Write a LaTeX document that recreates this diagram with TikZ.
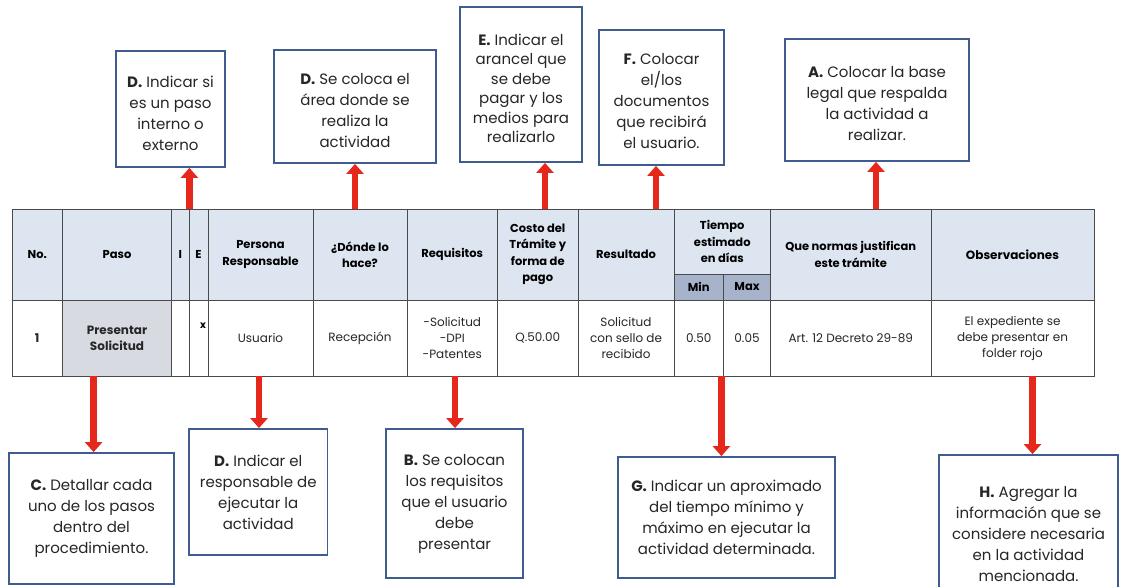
\documentclass[tikz,border=0pt]{standalone}
\usepackage{fontspec}
\setmainfont{Poppins}
\usetikzlibrary{arrows.meta}

\definecolor{hdrfill}{HTML}{DCE5F0}
\definecolor{subfill}{HTML}{A6B3CA}
\definecolor{pasofill}{HTML}{D7DBE1}
\definecolor{gridline}{HTML}{4A4A4A}
\definecolor{boxline}{HTML}{3F5C90}
\definecolor{arrowred}{HTML}{E6281C}
\definecolor{txt}{HTML}{262626}

% table cell: name, x1, y1, x2, y2, extra style, text
\newcommand\tcell[7]{%
  \node[cell,#6,minimum width={#4-#2},minimum height={#5-#3}]
    (#1) at ({(#2+#4)/2},{(#3+#5)/2}) {#7};}
% note box: name, x1, y1, x2, y2, text style, text
\newcommand\nbox[7]{%
  \node[notebox,minimum width={#4-#2},minimum height={#5-#3}]
    (#1) at ({(#2+#4)/2},{(#3+#5)/2}) {};
  \node[notetext,#6] (#1-text) at (#1.center) {#7};}

\begin{document}
\begin{tikzpicture}[x=1pt,y=-1pt,
  cell/.style={draw=gridline,line width=0.8pt,inner sep=0pt,align=center,
    text=txt,font=\fontsize{12}{16}\selectfont},
  head/.style={fill=hdrfill,text=black,font=\bfseries\fontsize{11.5}{16.5}\selectfont},
  subhead/.style={fill=subfill,text=black,font=\bfseries\fontsize{11.5}{14}\selectfont},
  notebox/.style={draw=boxline,line width=1.8pt,fill=white,inner sep=0pt},
  notetext/.style={inner sep=0pt,align=center,text=txt,font=\fontsize{15}{21}\selectfont},
  lower/.style={yshift=-4pt},
  redarrow/.style={draw=arrowred,line width=6.5pt,
    -{Triangle[width=17pt,length=10pt]}}]

\useasboundingbox (0,0) rectangle (1121,586);
\clip (0,0) rectangle (1121,586);
\fill[white] (0,0) rectangle (1121,586);

% ---- header row ----
\tcell{hNo}{12}{209}{62.5}{300}{head}{No.}
\tcell{hPaso}{62.5}{209}{171.5}{300}{head}{Paso}
\tcell{hI}{171.5}{209}{189}{300}{head}{I}
\tcell{hE}{189}{209}{208}{300}{head}{E}
\tcell{hPers}{208}{209}{313}{300}{head}{Persona\\Responsable}
\tcell{hDonde}{313}{209}{407}{300}{head}{¿Dónde lo\\hace?}
\tcell{hReq}{407}{209}{497.5}{300}{head}{Requisitos}
\tcell{hCosto}{497.5}{209}{578}{300}{head}{Costo del\\Trámite y\\forma de\\pago}
\tcell{hRes}{578}{209}{674}{300}{head}{Resultado}
\tcell{hTiempo}{674}{209}{770.5}{274}{head}{Tiempo\\estimado\\en días}
\tcell{hMin}{674}{274}{723.5}{300}{subhead}{Min}
\tcell{hMax}{723.5}{274}{770.5}{300}{subhead}{\raisebox{-3pt}{Max}}
\tcell{hNormas}{770.5}{209}{931}{300}{head}{Que normas justifican\\este trámite}
\tcell{hObs}{931}{209}{1094}{300}{head,font=\bfseries\fontsize{12}{16.5}\selectfont}{Observaciones}

% ---- data row ----
\tcell{dNo}{12}{300}{62.5}{376}{font=\bfseries\fontsize{12}{16}\selectfont}{1}
\tcell{dPaso}{62.5}{300}{171.5}{376}{fill=pasofill,font=\bfseries\fontsize{12}{16}\selectfont}{Presentar\\Solicitud}
\tcell{dI}{171.5}{300}{189}{376}{}{}
\tcell{dE}{189}{300}{208}{376}{}{}
\node[font=\bfseries\fontsize{10}{10}\selectfont,inner sep=0pt] (dX) at (203,326) {x};
\tcell{dPers}{208}{300}{313}{376}{}{Usuario}
\tcell{dDonde}{313}{300}{407}{376}{}{Recepción}
\tcell{dReq}{407}{300}{497.5}{376}{}{-Solicitud\\-DPI\\-Patentes}
\tcell{dCosto}{497.5}{300}{578}{376}{}{Q.50.00}
\tcell{dRes}{578}{300}{674}{376}{}{Solicitud\\con sello de\\recibido}
\tcell{dMin}{674}{300}{723.5}{376}{}{0.50}
\tcell{dMax}{723.5}{300}{770.5}{376}{}{0.05}
\tcell{dNormas}{770.5}{300}{931}{376}{}{Art. 12 Decreto 29-89}
\tcell{dObs}{931}{300}{1094}{376}{}{El expediente se\\debe presentar en\\folder rojo}

% ---- explanatory notes above the table ----
\nbox{nD1}{116}{51}{225}{167}{lower}{\textbf{D.} Indicar si\\es un paso\\interno o\\externo}
\nbox{nD2}{274}{50}{436}{163}{lower}{\textbf{D.} Se coloca el\\área donde se\\realiza la\\actividad}
\nbox{nE}{460}{7}{582}{162}{lower,font=\fontsize{15}{19.5}\selectfont}{\textbf{E.} Indicar el\\arancel que\\se debe\\pagar y los\\medios para\\realizarlo}
\nbox{nF}{599}{30}{724}{165}{lower}{\textbf{F.} Colocar\\el/los\\documentos\\que recibirá\\el usuario.}
\nbox{nA}{785}{39}{969}{161}{lower}{\textbf{A.} Colocar la base\\legal que respalda\\la actividad a\\realizar.}

% ---- explanatory notes below the table ----
\nbox{nC}{9}{453}{174}{584}{}{\textbf{C.} Detallar cada\\uno de los pasos\\dentro del\\procedimiento.}
\nbox{nD3}{189}{429}{327.5}{555}{}{\textbf{D.} Indicar el\\responsable de\\ejecutar la\\actividad}
\nbox{nB}{386}{429}{523}{578}{}{\textbf{B.} Se colocan\\los requisitos\\que el usuario\\debe\\presentar}
\nbox{nG}{618}{457}{835}{578}{}{\textbf{G.} Indicar un aproximado\\del tiempo mínimo y\\máximo en ejecutar la\\actividad determinada.}
\nbox{nH}{939}{455}{1118}{614}{}{\textbf{H.} Agregar la\\información que se\\considere necesaria\\en la actividad\\mencionada.}

% ---- arrow anchors on the table edges ----
\coordinate (tD2) at (355,209);
\coordinate (tE) at (545,209);
\coordinate (tF) at (656,209);
\coordinate (tA) at (876,209);
\coordinate (bC) at (93.6,376);
\coordinate (bD3) at (259,376);
\coordinate (bB) at (455,376);
\coordinate (bG) at (721.4,376);
\coordinate (bH) at (1032.5,376);

% ---- arrows ----
\draw[redarrow] (hI.north east) -- (hI.north east |- nD1.south);
\draw[redarrow] (tD2) -- (tD2 |- nD2.south);
\draw[redarrow] (tE) -- (tE |- nE.south);
\draw[redarrow] (tF) -- (tF |- nF.south);
\draw[redarrow] (tA) -- (tA |- nA.south);
\draw[redarrow] (bC) -- (bC |- nC.north);
\draw[redarrow] (bD3) -- (bD3 |- nD3.north);
\draw[redarrow] (bB) -- (bB |- nB.north);
\draw[redarrow] (bG) -- (bG |- nG.north);
\draw[redarrow] (bH) -- (bH |- nH.north);
\end{tikzpicture}
\end{document}
